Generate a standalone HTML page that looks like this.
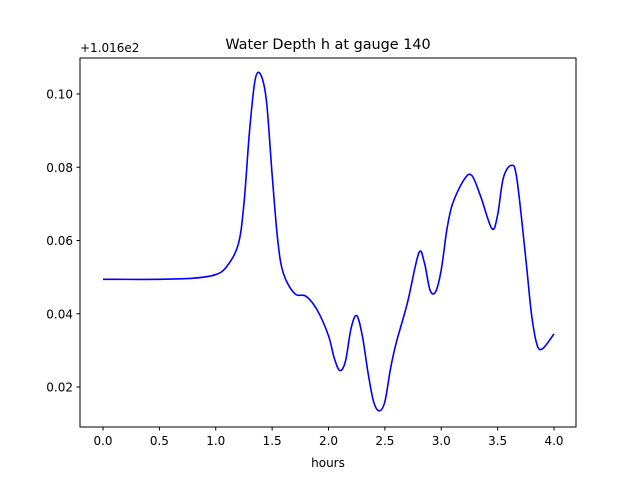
<!DOCTYPE html>
<html><head><meta charset="utf-8"><style>body{margin:0;background:#fff}svg{display:block;font-family:"DejaVu Sans","Liberation Sans",sans-serif}</style></head>
<body>
<svg width="640" height="480" viewBox="0 0 640 480">
<rect width="640" height="480" fill="#fff"/>
<text x="328" y="49" font-size="14.4" text-anchor="middle">Water Depth h at gauge 140</text>
<text x="80" y="52" font-size="12">+1.016e2</text>
<g id="ticks"></g>
<path id="line" fill="none" stroke="#0000ff" stroke-width="1.6"/>
<rect x="80" y="58" width="496" height="369" fill="none" stroke="#000" stroke-width="1"/>
<text x="328" y="467" font-size="12" text-anchor="middle">hours</text>
</svg>
<script>
const hours=[0,0.5,0.8,1.0,1.1,1.2,1.25,1.3,1.35,1.4,1.45,1.5,1.55,1.6,1.7,1.8,1.9,2.0,2.05,2.1,2.15,2.2,2.25,2.3,2.35,2.4,2.45,2.5,2.55,2.6,2.7,2.8,2.85,2.9,2.95,3.0,3.05,3.1,3.2,3.27,3.35,3.45,3.5,3.55,3.62,3.67,3.75,3.8,3.85,3.9,4.0];
const depth=[0.0494,0.0494,0.0497,0.0507,0.053,0.059,0.07,0.09,0.104,0.1052,0.098,0.078,0.06,0.051,0.0455,0.0448,0.041,0.034,0.028,0.0245,0.027,0.036,0.0395,0.034,0.024,0.016,0.0135,0.016,0.025,0.032,0.043,0.0565,0.054,0.0465,0.046,0.052,0.063,0.07,0.0765,0.0778,0.072,0.0632,0.067,0.077,0.0805,0.077,0.055,0.04,0.0315,0.0305,0.0345];
const xTicks=["0.0","0.5","1.0","1.5","2.0","2.5","3.0","3.5","4.0"];
const yTicks=["0.02","0.04","0.06","0.08","0.10"];
const X=v=>103+v*112.75, Y=v=>94+(0.10-v)*3662.5;
const NS="http://www.w3.org/2000/svg";
const g=document.getElementById('ticks');
function el(t,a){const e=document.createElementNS(NS,t);for(const k in a)e.setAttribute(k,a[k]);g.appendChild(e);return e;}
xTicks.forEach(t=>{const x=X(+t);
 const l=el('line',{x1:x,x2:x,y1:427,y2:430.5,stroke:'#000'});
 
 
 const tx=el('text',{x:x,y:445,'font-size':12,'text-anchor':'middle'});tx.textContent=t;
 
 });
yTicks.forEach(t=>{const y=Y(+t);
 const l=el('line',{x1:76.5,x2:80,y1:y,y2:y,stroke:'#000'});
 
 
 const tx=el('text',{x:73,y:y+4.5,'font-size':12,'text-anchor':'end'});tx.textContent=t;
 
 });
const p=hours.map((h,i)=>[X(h),Y(depth[i])]);
let d=`M${p[0][0]},${p[0][1]}`;
for(let i=0;i<p.length-1;i++){const p0=p[i-1]||p[i],p1=p[i],p2=p[i+1],p3=p[i+2]||p2;
 d+=` C${p1[0]+(p2[0]-p0[0])/6},${p1[1]+(p2[1]-p0[1])/6} ${p2[0]-(p3[0]-p1[0])/6},${p2[1]-(p3[1]-p1[1])/6} ${p2[0]},${p2[1]}`;}
document.getElementById('line').setAttribute('d',d);
</script>
</body></html>
